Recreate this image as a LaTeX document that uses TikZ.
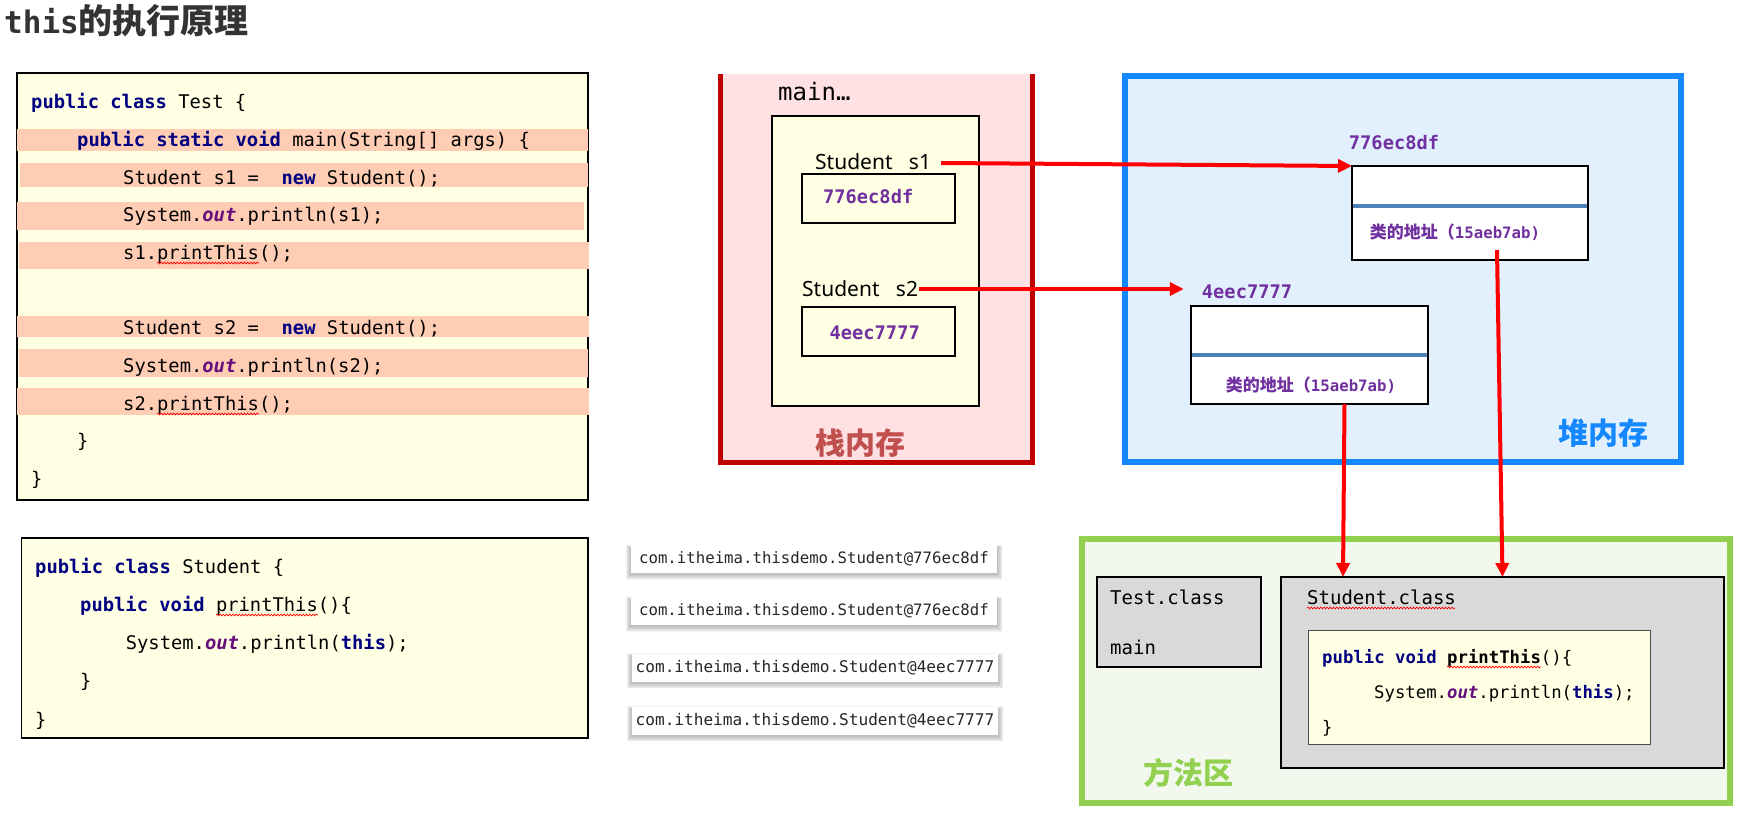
\documentclass[tikz,border=0pt]{standalone}
\usepackage{fontspec}
\setmainfont{Noto Sans}
\setmonofont{DejaVu Sans Mono}
\newfontfamily\cjk{Noto Sans CJK SC}
\usetikzlibrary{arrows.meta,decorations.pathmorphing,calc}
\pgfdeclarelayer{back}
\pgfdeclarelayer{shadowlayer}
\pgfsetlayers{back,shadowlayer,main}
\definecolor{kwc}{RGB}{0,0,128}
\definecolor{outc}{RGB}{102,14,122}
\definecolor{bandc}{RGB}{255,204,180}
\definecolor{codebg}{RGB}{255,255,227}
\definecolor{stackbg}{RGB}{255,225,227}
\definecolor{stackbd}{RGB}{192,0,0}
\definecolor{stacktx}{RGB}{192,80,77}
\definecolor{heapbg}{RGB}{226,240,254}
\definecolor{heapbd}{RGB}{21,135,255}
\definecolor{greenbg}{RGB}{242,248,237}
\definecolor{greenbd}{RGB}{146,208,80}
\definecolor{purp}{RGB}{112,48,160}
\definecolor{divc}{RGB}{79,129,189}
\definecolor{clsbg}{RGB}{217,217,217}
\definecolor{titlec}{RGB}{51,51,51}
\newcommand\jkw[1]{\textcolor{kwc}{\bfseries #1}}
\newcommand\jout[1]{\textcolor{outc}{\bfseries\itshape #1}}
\newcommand\fsz[1]{\fontsize{#1}{#1}\selectfont}
\begin{document}
\begin{tikzpicture}[x=1pt,y=-1pt,
  box/.style={anchor=north west, inner sep=0pt, outer sep=0pt, rectangle},
  codebox/.style={box, draw=black, line width=1.3pt, fill=codebg},
  codeA/.style={anchor=base west, inner sep=0pt, font=\ttfamily\fsz{18.8}},
  codeB/.style={anchor=base west, inner sep=0pt, font=\ttfamily\fsz{17.3}},
  clstx/.style={anchor=base west, inner sep=0pt, font=\ttfamily\fsz{19}},
  band/.style={fill=bandc},
  outbox/.style={rectangle, fill=white, minimum width=366pt, minimum height=28pt, inner sep=0pt,
    outer sep=0pt, font=\ttfamily\fsz{15.7}, text=black!85},
  addr/.style={font=\ttfamily\bfseries\fsz{18.7}, text=purp, inner sep=0pt},
  objbox/.style={box, draw=black, line width=2.5pt, fill=white},
  redarr/.style={draw=red, line width=4pt, -{Triangle[length=14pt,width=13pt]}},
  wavy/.style={draw=red, line width=0.7pt, decorate, decoration={snake, amplitude=0.9pt, segment length=3.2pt}},
  bigcjk/.style={font=\cjk\bfseries\fsz{30}, inner sep=0pt},
  objtx/.style={inner sep=0pt, text=purp}
]
\begin{pgfonlayer}{back}
\fill[white] (0,0) rectangle (1751,824);
\end{pgfonlayer}
\useasboundingbox (0,0) rectangle (1751,824);

% title
\node[anchor=base west, inner sep=0pt, text=titlec] (title) at (4,34)
  {{\ttfamily\bfseries\fsz{31}this}{\cjk\bfseries\fsz{34}的执行原理}};

% ---------- code box 1 ----------
\node[codebox, minimum width=571pt, minimum height=427pt] (code1) at (17,73) {};
\fill[band] (17,129) rectangle (588,151);
\fill[band] (20,163) rectangle (588,187);
\fill[band] (17,202) rectangle (584,230);
\fill[band] (19,242) rectangle (589,269);
\fill[band] (17,316) rectangle (589,337);
\fill[band] (19,349) rectangle (588,377);
\fill[band] (17,388) rectangle (589,415);
\node[codeA] (t1) at (31,108.6) {\jkw{public} \jkw{class} Test \{};
\node[codeA] (t2) at (77,146.6) {\jkw{public} \jkw{static} \jkw{void} main(String[] args) \{};
\node[codeA] (t3) at (123,184.6) {Student s1 =\ \ \jkw{new} Student();};
\node[codeA] (t4) at (123,221.6) {System.\jout{out}.println(s1);};
\node[codeA] (t5) at (123,259.6) {s1.printThis();};
\node[codeA] (t6) at (123,334.6) {Student s2 =\ \ \jkw{new} Student();};
\node[codeA] (t7) at (123,372.6) {System.\jout{out}.println(s2);};
\node[codeA] (t8) at (123,410.6) {s2.printThis();};
\node[codeA] (t9) at (77,447.6) {\}};
\node[codeA] (t10) at (31,485.6) {\}};
\draw[wavy] (157,263) -- (259,263);
\draw[wavy] (157,414) -- (259,414);

% ---------- code box 2 ----------
\node[codebox, minimum width=566.5pt, minimum height=200pt] (code2) at (21.5,538) {};
\node[codeA] (u1) at (35,573.6) {\jkw{public} \jkw{class} Student \{};
\node[codeA] (u2) at (80,611.6) {\jkw{public} \jkw{void} printThis()\{};
\node[codeA] (u3) at (125.6,649.6) {System.\jout{out}.println(\jkw{this});};
\node[codeA] (u4) at (80,687.6) {\}};
\node[codeA] (u5) at (35,726.6) {\}};
\draw[wavy] (216,615) -- (318,615);

% ---------- output boxes ----------
\node[outbox] (o1) at (814,559) {com.itheima.thisdemo.Student@776ec8df};
\node[outbox] (o2) at (814,611) {com.itheima.thisdemo.Student@776ec8df};
\node[outbox, font=\ttfamily\fsz{16.1}] (o3) at (815,667.5) {com.itheima.thisdemo.Student@4eec7777};
\node[outbox, font=\ttfamily\fsz{16.1}] (o4) at (815,720.5) {com.itheima.thisdemo.Student@4eec7777};
\begin{pgfonlayer}{shadowlayer}
\foreach \b in {o1,o2,o3,o4}{
  \foreach \k in {1,...,6}{
    \fill[black, opacity=0.045]
      ([shift={(-\k*0.9, 2.5-\k*0.5)}]\b.north west) rectangle ([shift={(\k*0.9, 1.5+\k*0.9)}]\b.south east);
  }
}
\end{pgfonlayer}

% ---------- stack ----------
\node[box, fill=stackbg, minimum width=312pt, minimum height=388pt] (stack) at (720,74) {};
\draw[stackbd, line width=5pt] (stack.north west) -- (stack.south west) -- (stack.south east) -- (stack.north east);
\node[anchor=base west, inner sep=0pt, font=\ttfamily\fsz{24}] (mainlbl) at (778,101) {main…};
\node[box, draw=black, line width=2pt, fill=codebg, minimum width=207pt, minimum height=290pt] (frame) at (772,116) {};
\node[anchor=base west, inner sep=0pt, font=\fsz{21}] (s1lbl) at (815,169) {Student\ \ \ s1};
\node[box, draw=black, line width=2pt, minimum width=153pt, minimum height=49pt] (a1) at (802,174) {};
\node[addr, anchor=base west] (a1tx) at (823,203.5) {776ec8df};
\node[anchor=base west, inner sep=0pt, font=\fsz{21}] (s2lbl) at (802,296) {Student\ \ \ s2};
\node[box, draw=black, line width=2pt, minimum width=153pt, minimum height=49pt] (a2) at (802,307) {};
\node[addr, anchor=base west] (a2tx) at (829.5,339.5) {4eec7777};
\node[bigcjk, text=stacktx] (stacklbl) at (860,443) {栈内存};

% ---------- heap ----------
\node[box, draw=heapbd, fill=heapbg, line width=6pt, minimum width=556pt, minimum height=386pt] (heap) at (1125,76) {};
\node[bigcjk, text=heapbd] (heaplbl) at (1603,433) {堆内存};
\node[objbox, minimum width=236pt, minimum height=94pt] (obj1) at (1352,166) {};
\draw[divc, line width=3.5pt] (1353,206) -- (1587,206);
\node[addr] (obj1lbl) at (1394,143) {776ec8df};
\node[objtx] (obj1tx) at (1455,232) {{\cjk\bfseries\fsz{17}类的地址（}{\ttfamily\bfseries\fsz{15.7}15aeb7ab)}};
\node[objbox, minimum width=237pt, minimum height=98pt] (obj2) at (1191,306) {};
\draw[divc, line width=3.5pt] (1192,355) -- (1427,355);
\node[addr] (obj2lbl) at (1247,292) {4eec7777};
\node[objtx] (obj2tx) at (1311,385) {{\cjk\bfseries\fsz{17}类的地址（}{\ttfamily\bfseries\fsz{15.7}15aeb7ab)}};

% ---------- method area ----------
\node[box, draw=greenbd, fill=greenbg, line width=6pt, minimum width=648pt, minimum height=264pt] (green) at (1082,539) {};
\node[bigcjk, text=greenbd] (greenlbl) at (1188,773) {方法区};
\node[box, draw=black, fill=clsbg, line width=2.5pt, minimum width=164pt, minimum height=90pt] (testcls) at (1097,577) {};
\node[clstx] (testtx) at (1110,604.6) {Test.class};
\node[clstx] (testmain) at (1110,654.6) {main};
\node[box, draw=black, fill=clsbg, line width=2.5pt, minimum width=443pt, minimum height=191pt] (studcls) at (1281,577) {};
\node[clstx] (studtx) at (1307,604.6) {Student.class};
\draw[wavy] (1307,608) -- (1455,608);
\node[box, draw=black!70, fill=codebg, line width=1pt, minimum width=342pt, minimum height=114pt] (inner) at (1308,630) {};
\node[codeB] (v1) at (1322,663) {\jkw{public} \jkw{void} {\bfseries printThis}()\{};
\node[codeB] (v2) at (1374,698) {System.\jout{out}.println(\jkw{this});};
\node[codeB] (v3) at (1322,733) {\}};
\draw[wavy] (1447,667) -- (1541,667);

% ---------- arrows ----------
\coordinate (s1start) at (941,163);
\coordinate (s2start) at (919,289);
\coordinate (o1start) at (1497,250);
\draw[redarr] (s1start) -- (obj1.north west);
\draw[redarr, shorten >=18pt] (s2start) -- (obj2lbl.west |- s2start);
\draw[redarr] (o1start) -- (studcls.north);
\draw[redarr] ([xshift=35pt]obj2.south) -- ([xshift=62pt]studcls.north west);
\end{tikzpicture}
\end{document}
